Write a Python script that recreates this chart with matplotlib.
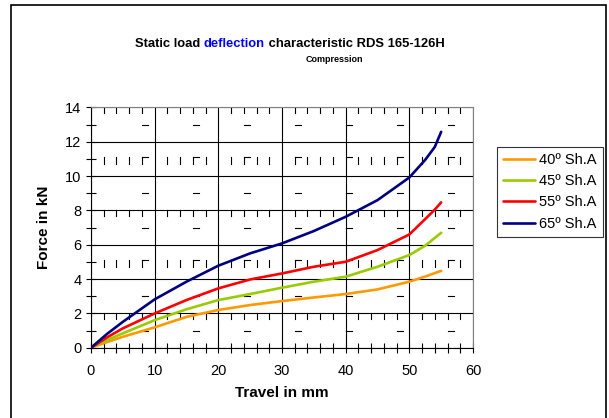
import numpy as np
import matplotlib
matplotlib.use('Agg')
from matplotlib import pyplot as plt
from matplotlib.patches import Rectangle

plt.rcParams['font.family'] = ['Liberation Sans', 'DejaVu Sans']

# travel (mm) and force (kN)
travel = [0, 2.5, 5, 10, 15, 20, 25, 30, 35, 40, 45, 50, 52.5, 54, 55]
force_40 = [0, 0.33, 0.64, 1.19, 1.80, 2.20, 2.49, 2.72, 2.93, 3.13, 3.40, 3.85, 4.15, 4.35, 4.48]
force_45 = [0, 0.45, 0.84, 1.61, 2.24, 2.78, 3.13, 3.50, 3.85, 4.14, 4.72, 5.40, 5.95, 6.40, 6.70]
force_55 = [0, 0.60, 1.13, 2.00, 2.78, 3.46, 3.98, 4.33, 4.72, 5.01, 5.69, 6.60, 7.50, 8.05, 8.47]
force_65 = [0, 0.80, 1.51, 2.82, 3.85, 4.78, 5.50, 6.08, 6.80, 7.63, 8.60, 9.92, 10.95, 11.70, 12.58]

labels = ['40º Sh.A', '45º Sh.A', '55º Sh.A', '65º Sh.A']
colors = ['#FF9900', '#99CC00', '#FF0000', '#000080']

fig = plt.figure(figsize=(6.09, 4.18), dpi=100)
ax = fig.add_axes([0.1494, 0.168, 0.6273, 0.575])

# outer chart frame
fig.patches.append(Rectangle((11 / 609, -0.05), 595 / 609, 1.05 - 5 / 418, transform=fig.transFigure,
                             fill=False, edgecolor='black', linewidth=1.2))

ax.set_xlim(0, 60)
ax.set_ylim(0, 14)
ax.set_xticks(np.arange(0, 61, 10))
ax.set_yticks(np.arange(0, 15, 2))
ax.set_xticks(np.arange(0, 61, 2), minor=True)
ax.set_yticks(np.arange(0, 15, 1), minor=True)
ax.tick_params(which='both', direction='inout', length=7, width=0.8, labelsize=10.5, color='black')
ax.tick_params(axis='x', pad=8)
ax.grid(which='major', color='black', linewidth=0.8)
for s in ['top', 'right']:
    ax.spines[s].set_color('#808080')

# Excel tick residue inside the plot
tick_kw = dict(color='black', linewidth=0.8, zorder=1)
for yv in [2, 8, 14]:
    for xv in np.arange(2, 60, 2):
        if xv % 10:
            ax.plot([xv, xv], [yv, yv - 0.3], **tick_kw)
for yv in [5, 11]:
    for xv in np.arange(2, 60, 2):
        if xv % 10:
            ax.plot([xv, xv], [yv - 0.3, yv + 0.1], **tick_kw)
for yv in [1, 3, 5, 7, 9, 11, 13]:
    yd = yv + (0.1 if yv in (5, 11) else 0)
    for xv in np.arange(8, 60, 8):
        ax.plot([xv, xv + 1], [yd, yd], **tick_kw)

for f, lab, c in zip([force_40, force_45, force_55, force_65], labels, colors):
    ax.plot(travel, f, color=c, linewidth=1.9, label=lab, zorder=3, solid_capstyle='round')

leg = fig.legend(loc='upper left', bbox_to_anchor=(497 / 609, 1 - 147 / 418), frameon=True, fancybox=False,
                 edgecolor='black', fontsize=10.5, handlelength=2.2, handletextpad=0.3, labelspacing=0.5,
                 borderpad=0.4, borderaxespad=0)
leg.get_frame().set_linewidth(0.8)

ax.set_xlabel('Travel in mm', fontsize=11, fontweight='bold', labelpad=6)
ax.set_ylabel('Force in kN', fontsize=11, fontweight='bold', labelpad=10)

# title with blue word
tsize = 9.4
t1 = fig.text(135 / 609, 1 - 44 / 418, 'Static load ', fontsize=tsize, fontweight='bold', va='center', ha='left')
fig.canvas.draw()
r = fig.canvas.get_renderer()
bb = t1.get_window_extent(r)
t2 = fig.text(bb.x1 / 609, 1 - 44 / 418, 'deflection', fontsize=tsize, fontweight='bold', color='#0000FF',
              va='center', ha='left')
bb2 = t2.get_window_extent(r)
fig.text(bb2.x1 / 609, 1 - 44 / 418, ' characteristic RDS 165-126H', fontsize=tsize, fontweight='bold',
         va='center', ha='left')
fig.text(334 / 609, 1 - 59 / 418, 'Compression', fontsize=6.5, fontweight='bold', va='center', ha='center')

fig.savefig('out.png', dpi=100)
